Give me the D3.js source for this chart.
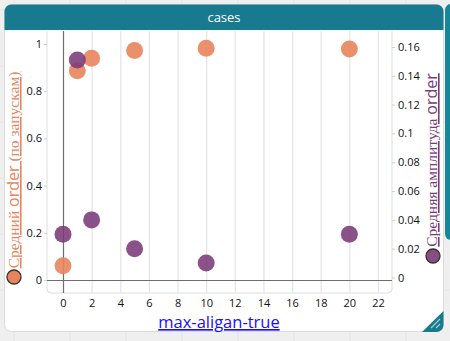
<!DOCTYPE html>
<html><head><meta charset="utf-8">
<script src="https://cdn.jsdelivr.net/npm/d3@7"></script>
<style>
html,body{margin:0;padding:0;background:#efefef;width:450px;height:341px;overflow:hidden;}
svg{display:block;}
</style></head>
<body><svg id="c" width="450" height="341"></svg>
<script>
const title = "cases";
const xLabel = "max-aligan-true";
const xValues = [0, 1, 2, 5, 10, 20];
const orderMean = [0.06, 0.887, 0.94, 0.972, 0.982, 0.979];
const amplitudeMean = [0.030, 0.151, 0.040, 0.020, 0.010, 0.030];
const xTicks = [0,2,4,6,8,10,12,14,16,18,20,22];
const yLeftTicks = [0,0.2,0.4,0.6,0.8,1];
const yRightTicks = [0,0.02,0.04,0.06,0.08,0.1,0.12,0.14,0.16];

const svg = d3.select("#c");
const font = "'Open Sans', Lato, sans-serif";

// page background grid
const bg = svg.append("g");
for (let x = 14; x < 450; x += 56) bg.append("line").attr("x1",x).attr("x2",x).attr("y1",0).attr("y2",341).attr("stroke","#e4e4e4");
for (let y = 10; y < 341; y += 56) bg.append("line").attr("x1",0).attr("x2",450).attr("y1",y).attr("y2",y).attr("stroke","#e4e4e4");

// neighbour card strip
svg.append("rect").attr("x",445).attr("y",4).attr("width",20).attr("height",236).attr("rx",6).attr("fill","#15879a");

// card
svg.append("rect").attr("x",4.5).attr("y",4.5).attr("width",439).attr("height",327).attr("rx",7)
  .attr("fill","#fff").attr("stroke","#dcdcdc");
svg.append("path").attr("d","M4.5,30 V11.5 a7,7 0 0 1 7,-7 H436.5 a7,7 0 0 1 7,7 V30 Z").attr("fill","#177a8e");
svg.append("text").attr("x",224).attr("y",22).attr("text-anchor","middle").attr("fill","#fff")
  .attr("font-family",font).attr("font-size",13).attr("font-weight",500).text(title);
// resize triangle
svg.append("path").attr("d","M443.5,311 V325 a7,7 0 0 1 -7,7 H422 Z").attr("fill","#177a8e");
svg.append("path").attr("d","M431,328 L440,319 M436,328 L440,324").attr("stroke","#9fd0da").attr("stroke-width",1.2);

// plot frame
const L = 47, R = 392, T = 31, B = 293;
svg.append("path").attr("d",`M${L},${T} V${B-4} a4,4 0 0 0 4,4 H${R-4} a4,4 0 0 0 4,-4 V${T}`)
  .attr("fill","#fff").attr("stroke","#dedede");

const x = d3.scaleLinear().domain([0,22]).range([63,378]);
const yL = d3.scaleLinear().domain([0,1]).range([280,44]);
const yR = d3.scaleLinear().domain([0,0.16]).range([277.5,47]);

// vertical gridlines
svg.append("g").selectAll("line").data(xTicks.filter(d=>d!==0)).join("line")
  .attr("x1",d=>x(d)+0.5).attr("x2",d=>x(d)+0.5).attr("y1",T).attr("y2",B)
  .attr("stroke","#e6e6e6").attr("stroke-width",1.3);
// zero lines
svg.append("line").attr("x1",x(0)+0.5).attr("x2",x(0)+0.5).attr("y1",T).attr("y2",B).attr("stroke","#6e6e6e").attr("stroke-width",1.2);
svg.append("line").attr("x1",L).attr("x2",R).attr("y1",yL(0)+0.5).attr("y2",yL(0)+0.5).attr("stroke","#6e6e6e").attr("stroke-width",1.2);

// axes
const axStyle = g => {
  g.select(".domain").remove();
  g.selectAll(".tick line").attr("stroke","#cfcfcf");
  g.selectAll("text").attr("font-family",font).attr("font-size",11).attr("fill","#111");
};
svg.append("g").attr("transform",`translate(${L},0)`)
  .call(d3.axisLeft(yL).tickValues(yLeftTicks).tickFormat(d3.format("~g")).tickSize(3).tickPadding(2)).call(axStyle);
svg.append("g").attr("transform",`translate(${R},0)`)
  .call(d3.axisRight(yR).tickValues(yRightTicks).tickFormat(d3.format("~g")).tickSize(3).tickPadding(3)).call(axStyle);
svg.append("g").attr("transform",`translate(0,${B})`)
  .call(d3.axisBottom(x).tickValues(xTicks).tickSize(0).tickPadding(6)).call(axStyle);

// points
const orange = "#e8845c", purple = "#7a3a78";
const pts = svg.append("g");
pts.selectAll("circle.o").data(xValues).join("circle").attr("class","o")
  .attr("cx",(d)=>x(d)).attr("cy",(d,i)=>yL(orderMean[i])).attr("r",8.5)
  .attr("fill",orange).attr("fill-opacity",0.9);
pts.selectAll("circle.p").data(xValues).join("circle").attr("class","p")
  .attr("cx",(d)=>x(d)).attr("cy",(d,i)=>yR(amplitudeMean[i])).attr("r",8.5)
  .attr("fill",purple).attr("fill-opacity",0.88);

// x label
svg.append("text").attr("x",219).attr("y",328).attr("text-anchor","middle")
  .attr("font-family",font).attr("font-size",16.5).attr("fill","#1a0dff")
  .attr("text-decoration","underline").text(xLabel);

// left label
const ll = svg.append("text").attr("transform","translate(19,170) rotate(-90)").attr("text-anchor","middle")
  .attr("fill",orange).attr("text-decoration","underline");
ll.append("tspan").attr("font-family","'Liberation Serif', serif").attr("font-size",15.5).text("Средний ");
ll.append("tspan").attr("font-family",font).attr("font-size",16).text("order");
ll.append("tspan").attr("font-family","'Liberation Serif', serif").attr("font-size",15.5).text(" (по запускам)");
svg.append("circle").attr("cx",14).attr("cy",277).attr("r",7).attr("fill",orange).attr("stroke","#333").attr("stroke-width",1.3);

// right label
const rl = svg.append("text").attr("transform","translate(437,160) rotate(-90)").attr("text-anchor","middle")
  .attr("fill",purple).attr("text-decoration","underline");
rl.append("tspan").attr("font-family","'Liberation Serif', serif").attr("font-size",15.5).text("Средняя амплитуда ");
rl.append("tspan").attr("font-family",font).attr("font-size",16).text("order");
svg.append("circle").attr("cx",433).attr("cy",256).attr("r",7).attr("fill",purple).attr("fill-opacity",0.9).attr("stroke","#333").attr("stroke-width",1.3);
</script></body></html>
